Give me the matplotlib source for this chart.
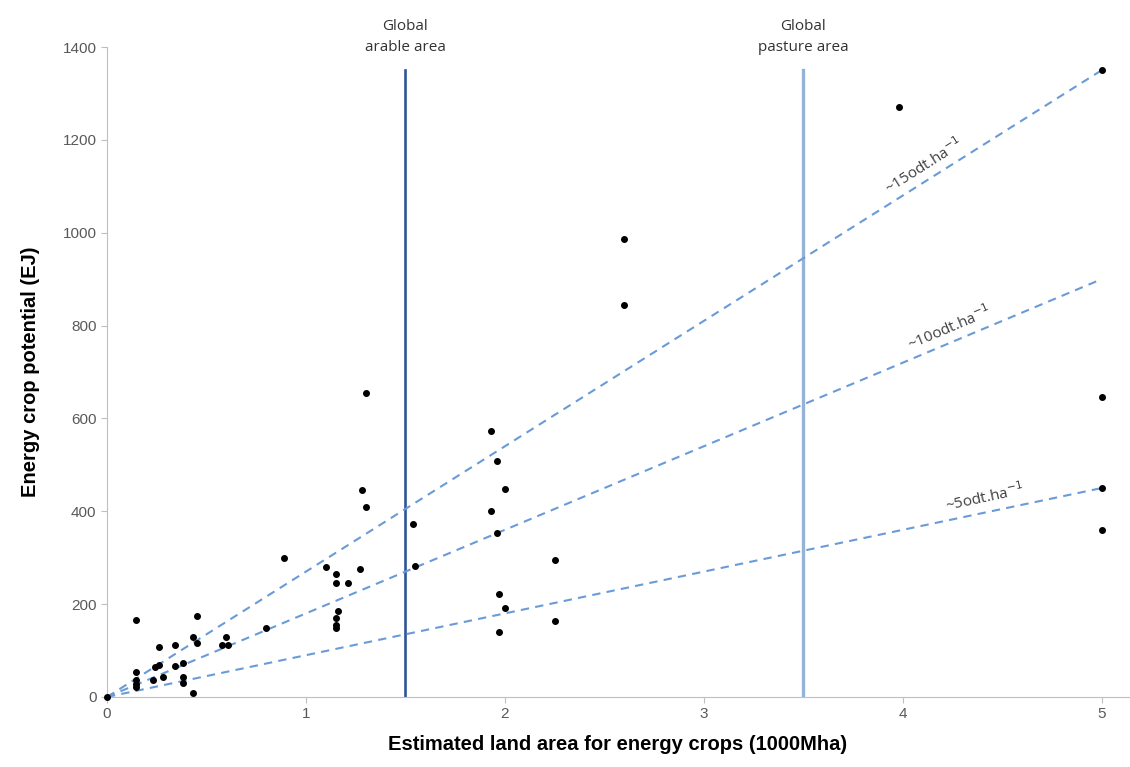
import numpy as np
import matplotlib.pyplot as plt

# scatter data: land area (1000 Mha) vs energy crop potential (EJ)
land_area = [0.0, 0.146, 0.146, 0.146, 0.146, 0.146, 0.23, 0.24, 0.26, 0.26, 0.28,
             0.34, 0.34, 0.38, 0.38, 0.38, 0.43, 0.43, 0.45, 0.45, 0.58, 0.60, 0.61,
             0.80, 0.89, 1.10, 1.15, 1.15, 1.21, 1.27, 1.16, 1.15, 1.15, 1.15,
             1.28, 1.30, 1.30, 1.54, 1.55, 1.93, 1.96, 2.00, 1.93, 1.96, 2.25,
             1.97, 2.00, 1.97, 2.25, 2.60, 2.60, 3.98, 5.0, 5.0, 5.0, 5.0]
potential = [0, 166, 54, 37, 28, 22, 37, 65, 69, 107, 43,
             112, 67, 73, 43, 30, 129, 8, 175, 116, 112, 130, 112,
             148, 299, 280, 265, 245, 245, 275, 185, 170, 155, 148,
             446, 655, 409, 373, 282, 573, 508, 448, 401, 353, 295,
             222, 192, 140, 164, 986, 844, 1270, 1350, 647, 450, 359]

# yield reference lines (odt/ha) and their end values at 5000 Mha
yields = [15, 10, 5]
line_end = [1350, 900, 450]
yield_labels = ['~15odt.ha$^{-1}$', '~10odt.ha$^{-1}$', '~5odt.ha$^{-1}$']
label_x = [4.13, 4.25, 4.42]

# global area markers
area_x = [1.5, 3.5]
area_names = ['Global\narable area', 'Global\npasture area']
area_colors = ['#2F5597', '#95B3D7']

fig = plt.figure(figsize=(11.3, 7.67), dpi=100)
ax = fig.add_axes([0.0947, 0.0913, 0.904, 0.8474])

xmax = 5.135
ax.set_xlim(0, xmax)
ax.set_ylim(0, 1400)

# dashed yield lines from origin
for end, lab, lx in zip(line_end, yield_labels, label_x):
    ax.plot([0, 5], [0, end], linestyle=(0, (4, 3)), color='#6A9BD8', lw=1.5, zorder=2)
    ly = end / 5 * lx
    # screen angle of the line
    p0 = ax.transData.transform((0, 0))
    p1 = ax.transData.transform((5, end))
    ang = np.degrees(np.arctan2(p1[1] - p0[1], p1[0] - p0[0]))
    ax.text(lx, ly + 12, lab, rotation=ang, rotation_mode='anchor', ha='center', va='bottom',
            fontsize=11, color='#404040', family='Open Sans')

# vertical area lines
for xv, name, c in zip(area_x, area_names, area_colors):
    ax.plot([xv, xv], [0, 1350], color=c, lw=1.9 if xv < 2 else 2.4, zorder=1)
    ax.text(xv, 1422, name, ha='center', va='center', fontsize=11, color='#333333',
            family='Open Sans', linespacing=1.5, clip_on=False)

ax.scatter(land_area, potential, s=16, color='black', marker='o', zorder=3, clip_on=False)

ax.set_xticks(range(0, 6))
ax.set_yticks(range(0, 1401, 200))
for s in ['top', 'right']:
    ax.spines[s].set_visible(False)
for s in ['left', 'bottom']:
    ax.spines[s].set_color('#BFBFBF')
ax.tick_params(colors='#BFBFBF', labelcolor='#595959', length=4, labelsize=11)
for t in ax.get_xticklabels() + ax.get_yticklabels():
    t.set_family('Liberation Sans')

ax.set_xlabel('Estimated land area for energy crops (1000Mha)', fontsize=14.5,
              fontweight='bold', family='Liberation Sans', labelpad=10)
ax.set_ylabel('Energy crop potential (EJ)', fontsize=14.5, fontweight='bold',
              family='Liberation Sans', labelpad=16)

fig.savefig('out.png', dpi=100)
